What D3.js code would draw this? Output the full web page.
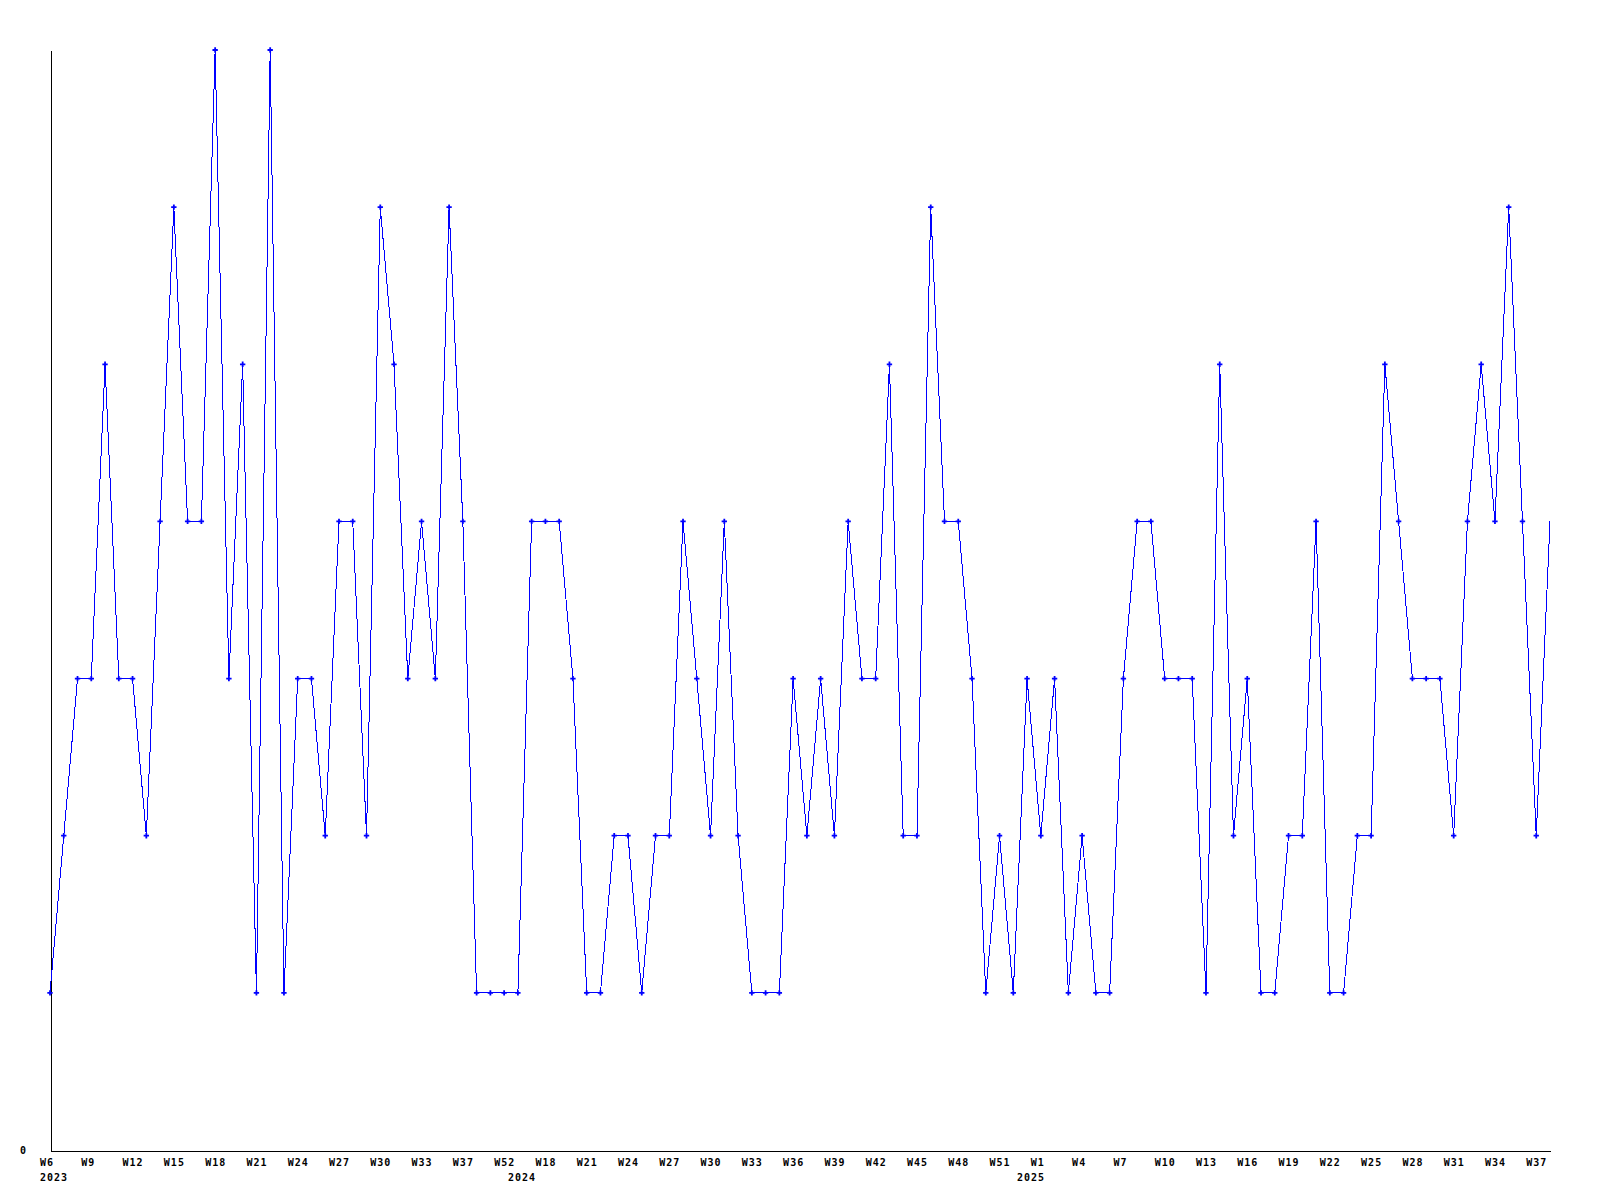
<!DOCTYPE html>
<html>
<head>
<meta charset="utf-8">
<script src="https://cdn.jsdelivr.net/npm/d3@7"></script>
<style>
  body { margin: 0; background: #fff; }
  svg { display: block; }
  .lbl { font-family: "DejaVu Sans Mono", monospace; font-weight: bold; font-size: 10px; letter-spacing: 1px; fill: #000; }
</style>
</head>
<body>
<script>
// week numbers per year, one entry per point (gaps in the data are real)
const weeks2023 = [6,7,8,9,10,11,12,13,14,15,16,17,18,19,20,21,22,23,24,25,26,27,28,29,30,31,32,33,34,36,37,41,47,52];
const weeks2024 = [16,17,18,19,20,21,22,23,24,25,26,27,28,29,30,31,32,33,34,35,36,37,38,39,40,41,42,43,44,45,46,47,48,49,50,51,52];
const weeks2025 = [0,1,2,3,4,5,6,7,8,9,10,11,12,13,14,15,16,17,18,19,20,21,22,23,24,25,26,27,28,29,30,31,32,33,34,35,36,37,38];
const years = [2023, 2024, 2025];

const values = [
  1,2,3,3,5,3,3,2,4,6,
  4,4,7,3,5,1,7,1,3,3,
  2,4,4,2,6,5,3,4,3,6,
  4,1,1,1,1,4,4,4,3,1,
  1,2,2,1,2,2,4,3,2,4,
  2,1,1,1,3,2,3,2,4,3,
  3,5,2,2,6,4,4,3,1,2,
  1,3,2,3,1,2,1,1,3,4,
  4,3,3,3,1,5,2,3,1,1,
  2,2,4,1,1,2,2,5,4,3,
  3,3,2,4,5,4,6,4,2,4
];
const yMax = 7;
const tickEvery = 3;

// build the category list
let cats = [];
[weeks2023, weeks2024, weeks2025].forEach(function(ws, yi){
  ws.forEach(function(w, wi){
    cats.push({key: years[yi] + "-W" + w, week: w, year: years[yi], firstOfYear: wi === 0});
  });
});
const data = cats.map(function(c, i){ return {cat: c, v: values[i]}; });

const width = 1600, height = 1200;
const margin = {top: 50, bottom: 50, left: 50, right: 50};

const svg = d3.select("body").append("svg")
  .attr("width", width)
  .attr("height", height);

const x = d3.scalePoint()
  .domain(cats.map(function(c){ return c.key; }))
  .range([margin.left, width - margin.right]);

const y = d3.scaleLinear()
  .domain([0, yMax])
  .range([height - margin.bottom, margin.top]);

// axes (plain lines, no tick marks)
const xAxis = d3.axisBottom(x).tickSize(0).tickFormat("");
svg.append("g")
  .attr("transform", "translate(0," + (y(0) + 0.5) + ")")
  .call(xAxis)
  .call(function(g){ g.select(".domain").attr("stroke", "#000").attr("shape-rendering", "crispEdges"); });

const yAxis = d3.axisLeft(y).tickValues([]).tickSize(0);
svg.append("g")
  .attr("transform", "translate(" + (margin.left + 0.5) + ",0)")
  .call(yAxis)
  .call(function(g){ g.select(".domain").attr("stroke", "#000").attr("shape-rendering", "crispEdges"); });

// y "0" label
svg.append("text")
  .attr("class", "lbl")
  .attr("x", 20)
  .attr("y", y(0) + 4)
  .text("0");

// x labels: every 3rd point, year under the first point of each year
const labelled = data.filter(function(d, i){ return i % tickEvery === 0 && i < data.length - 1; });
svg.selectAll(".wk")
  .data(labelled)
  .enter().append("text")
  .attr("class", "lbl wk")
  .attr("x", function(d){ return x(d.cat.key) - 10; })
  .attr("y", y(0) + 16)
  .text(function(d){ return "W" + d.cat.week; });

svg.selectAll(".yr")
  .data(data.filter(function(d){ return d.cat.firstOfYear; }))
  .enter().append("text")
  .attr("class", "lbl yr")
  .attr("x", function(d){ return x(d.cat.key) - 10; })
  .attr("y", y(0) + 31)
  .text(function(d){ return d.cat.year; });

// the series line
const line = d3.line()
  .x(function(d){ return x(d.cat.key); })
  .y(function(d){ return y(d.v); });

svg.append("path")
  .datum(data)
  .attr("d", line)
  .attr("fill", "none")
  .attr("stroke", "#0000ff")
  .attr("stroke-width", 1)
  .attr("shape-rendering", "crispEdges");

// markers (last, still-open week has none)
svg.selectAll(".pt")
  .data(data.slice(0, data.length - 1))
  .enter().append("path")
  .attr("class", "pt")
  .attr("d", d3.symbol().type(d3.symbolCross).size(16))
  .attr("transform", function(d){ return "translate(" + x(d.cat.key) + "," + y(d.v) + ")"; })
  .attr("fill", "#0000ff");
</script>
</body>
</html>
